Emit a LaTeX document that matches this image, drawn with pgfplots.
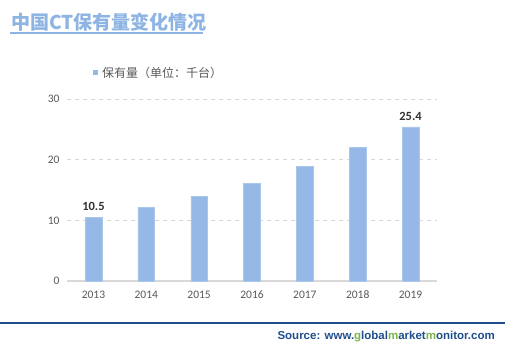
\documentclass[border=0pt]{standalone}
\usepackage{pgfplots}
\pgfplotsset{compat=1.18}
\usepackage{fontspec}
\setmainfont{Carlito}
\newfontfamily\cjk{Noto Sans CJK SC}
\newfontfamily\arialf{Liberation Sans}
\definecolor{barblue}{HTML}{95B8E6}
\definecolor{titleblue}{HTML}{8DB4E2}
\definecolor{srcblue}{HTML}{1F4E8C}
\definecolor{srcgreen}{HTML}{7AB648}
\definecolor{gridgray}{HTML}{D9D9D9}
\definecolor{ticktext}{HTML}{595959}
\begin{document}
\begin{tikzpicture}[x=1pt,y=1pt]
\path[use as bounding box,fill=white] (0,0) rectangle (518,353);
\begin{axis}[
  at={(67pt,72pt)}, anchor=south west,
  scale only axis, width=370pt, height=182pt,
  xmin=-0.5, xmax=6.5, ymin=0, ymax=30,
  xtick={0,...,6},
  xticklabels={2013,2014,2015,2016,2017,2018,2019},
  ytick={0,10,20,30},
  axis x line*=bottom,
  axis y line*=left,
  y axis line style={draw=none},
  x axis line style={draw=gridgray, line width=1.5pt, -},
  major tick length=0pt,
  ymajorgrids,
  grid style={gridgray, dashed, dash pattern=on 4pt off 4pt, line width=0.8pt},
  ticklabel style={font=\fontsize{11.5}{13}\selectfont, text=ticktext},
  /pgf/number format/assume math mode=true,
  xticklabel style={yshift=-6pt, text height=8pt, text depth=0pt},
  yticklabel style={xshift=-4pt},
  clip=false,
]
\addplot[ybar, bar width=16.7pt, bar shift=0pt, fill=barblue, draw=barblue!80!white]
  coordinates {(0,10.5) (1,12.1) (2,14.0) (3,16.1) (4,18.9) (5,22.0) (6,25.4)};
\addplot[draw=none, mark=none, nodes near coords, point meta=y,
  every node near coord/.append style={font=\fontsize{12.5}{14}\selectfont\bfseries, text=black!80, anchor=south, yshift=3pt},
  nodes near coords style={/pgf/number format/.cd, fixed, precision=1, fixed zerofill, assume math mode=true}]
  coordinates {(0,10.5) (6,25.4)};
\end{axis}
\node[anchor=west, text=titleblue, font=\cjk\bfseries\fontsize{19}{22}\selectfont, inner sep=0pt] at (11,331) {中国CT保有量变化情况};
\draw[titleblue, line width=1.5pt] (10,320) -- (203,320);
\fill[barblue] (92.5,277.5) rectangle (97.5,282.5);
\node[anchor=west, text=ticktext, font=\cjk\fontsize{12}{14}\selectfont, inner sep=0pt] at (102,280) {保有量（单位：千台）};
\draw[srcblue, line width=1.2pt] (0,30) -- (505,30);
\node[anchor=east, inner sep=0pt, font=\arialf\bfseries\fontsize{11.5}{13}\selectfont, text=srcblue] at (495,16)
  {Source: www.\textcolor{srcgreen}{g}lobal\textcolor{srcgreen}{m}arket\textcolor{srcgreen}{m}onitor.com};
\end{tikzpicture}
\end{document}
